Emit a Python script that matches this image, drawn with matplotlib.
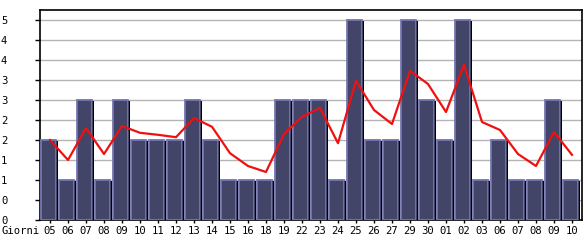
import matplotlib
matplotlib.use("Agg")
import matplotlib.pyplot as plt
import numpy as np

days = ["05", "06", "07", "08", "09", "10", "11", "12", "13", "14", "15", "16", "18", "19",
        "22", "23", "24", "25", "26", "27", "29", "30", "01", "02", "03", "06", "07", "08", "09", "10"]
counts = [2, 1, 3, 1, 3, 2, 2, 2, 3, 2, 1, 1, 1, 3, 3, 3, 1, 5, 2, 2, 5, 3, 2, 5, 1, 2, 1, 1, 3, 1]
trend = [2.0, 1.5, 2.3, 1.65, 2.35, 2.18, 2.13, 2.07, 2.55, 2.33, 1.67, 1.35, 1.2, 2.15,
         2.58, 2.8, 1.92, 3.48, 2.75, 2.4, 3.73, 3.4, 2.7, 3.88, 2.45, 2.25, 1.65, 1.35, 2.2, 1.63]
ytick_values = [0, 0.5, 1, 1.5, 2, 2.5, 3, 3.5, 4, 4.5, 5]
ytick_labels = ["0", "0", "1", "1", "2", "2", "3", "3", "4", "4", "5"]
x_title = "Giorni"

font = "DejaVu Sans Mono"
fs = 7.6
fig = plt.figure(figsize=(5.85, 2.4), dpi=100)
ax = fig.add_axes([40 / 585, 20 / 240, 542 / 585, 210 / 240])

x = np.arange(len(counts))
vals = np.array(counts, dtype=float)

# grid
for v in ytick_values[1:]:
    ax.axhline(v, color="#b4b4b4", lw=1.0, zorder=0.5)

# shadow
ax.bar(x + 0.41, vals - 0.02, width=0.1, color="black", zorder=2, linewidth=0)
# main bars
ax.bar(x - 0.06, vals, width=0.84, color="#424468", edgecolor="#7676b2", linewidth=1.3, zorder=3)
# cover right light edge with fill color
ax.bar(x + 0.37, vals - 0.03, width=0.04, color="#424468", linewidth=0, zorder=3.5)

ax.plot(x, trend, color="#f01010", lw=1.6, zorder=5)

ax.set_xlim(-0.556, len(counts) - 1 + 0.556)
ax.set_ylim(0, 5.25)
ax.set_yticks(ytick_values)
ax.set_yticklabels(ytick_labels, fontfamily=font, fontsize=fs)
ax.set_xticks(x)
ax.set_xticklabels(days, fontfamily=font, fontsize=fs)
ax.tick_params(axis="y", length=3.6, width=1, pad=24.5, direction="out")
for lab in ax.get_yticklabels():
    lab.set_horizontalalignment("left")
ax.tick_params(axis="x", length=2.5, width=1, pad=2, direction="out")
for s in ax.spines.values():
    s.set_color("black")
    s.set_linewidth(1.2)

fig.text(1 / 585, 1 - 231 / 240, x_title, fontfamily=font, fontsize=fs, ha="left", va="center")

fig.savefig("out.png", dpi=100)
